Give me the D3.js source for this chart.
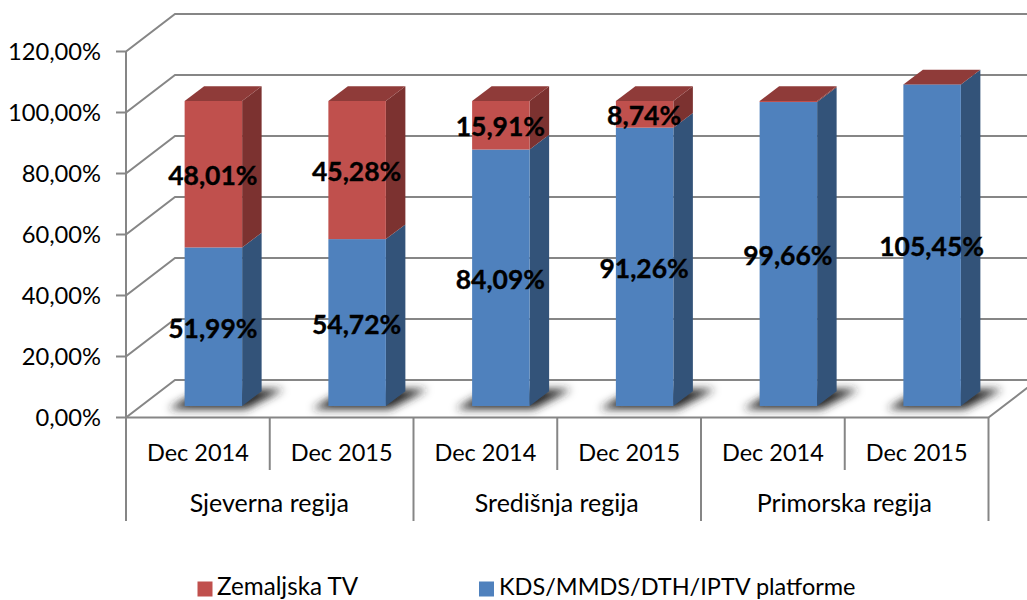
<!DOCTYPE html>
<html><head><meta charset="utf-8">
<script src="https://cdn.jsdelivr.net/npm/d3@7/dist/d3.min.js"></script>
<style>html,body{margin:0;background:#fff;overflow:hidden}svg{display:block}text{font-family:Lato,"Open Sans",sans-serif}</style>
</head><body><svg id="c" width="1027" height="600"></svg>
<script>
const periods=["Dec 2014","Dec 2015","Dec 2014","Dec 2015","Dec 2014","Dec 2015"];
const regions=["Sjeverna regija","Središnja regija","Primorska regija"];
const blueValues=[51.99,54.72,84.09,91.26,99.66,105.45];
const redValues=[48.01,45.28,15.91,8.74,0.34,0];
const yTicks=[0,20,40,60,80,100,120];
const legendItems=["Zemaljska TV","KDS/MMDS/DTH/IPTV platforme"];

const svg=d3.select("#c");
const GRID="#868686",BLUE="#4F81BD",BLUES="#335379",RED="#C0504D",REDS="#7C3230",REDT="#8F3B39";
const wallDx=49,wallDy=37.5,barDx=19.5,barDy=14.7,floorDx=15.5,floorDy=11.5;
const y=d3.scaleLinear().domain([0,120]).range([417.5,51.5]);
const x=d3.scaleBand().domain(d3.range(6)).range([126,988.5]).paddingInner(.6).paddingOuter(.3);
const step=x.step(),x0=126;
const defs=svg.append("defs");
defs.append("filter").attr("id","sh").attr("x","-40%").attr("y","-100%").attr("width","180%").attr("height","300%")
  .append("feGaussianBlur").attr("stdDeviation",4);
const fmt=v=>v.toFixed(2).replace(".",",")+"%";

// walls
const g=svg.append("g").attr("fill","none").attr("stroke",GRID).attr("stroke-width",2);
yTicks.forEach(t=>{
  g.append("path").attr("d",`M${x0-10},${y(t)}H${x0}L${x0+wallDx},${y(t)-wallDy}H1040`);
});
g.append("path").attr("d",`M${x0},${y(120)}V${y(0)}H${x0+step*6}L${x0+step*6+wallDx},${y(0)-wallDy}`);
// hierarchical axis
d3.range(7).forEach(i=>{
  const isGroup=i%2===0;
  g.append("line").attr("x1",x0+step*i).attr("x2",x0+step*i).attr("y1",y(0)).attr("y2",isGroup?521:470);
});
// tick labels
svg.append("g").selectAll("text").data(yTicks).join("text")
  .attr("x",101).attr("y",d=>y(d)+8.5).attr("text-anchor","end").attr("font-size",23.7).attr("fill","#000")
  .text(d=>fmt(d));
svg.append("g").selectAll("text").data(periods).join("text")
  .attr("x",(d,i)=>x0+step*(i+.5)).attr("y",461).attr("text-anchor","middle").attr("font-size",23.5).text(d=>d);
svg.append("g").selectAll("text").data(regions).join("text")
  .attr("x",(d,i)=>x0+step*(2*i+1)-.5).attr("y",512).attr("text-anchor","middle").attr("font-size",25).text(d=>d);

// bars
const pts=a=>a.map(p=>p.join(",")).join(" ");
const vy=v=>y(v)-floorDy;
const bw=x.bandwidth();
// shadows
const sh=svg.append("g");
blueValues.forEach((b,i)=>{
  const l=x(i)+floorDx,r=l+bw,by=vy(0);
  sh.append("polygon").attr("filter","url(#sh)").attr("fill","#262626")
    .attr("points",pts([[l-16,by+3],[r+4,by+3],[r+barDx+22,by-barDy-2],[l+barDx-2,by-barDy-2]]));
});
blueValues.forEach((b,i)=>{
  const l=x(i)+floorDx,r=l+bw,rv=redValues[i];
  const gb=svg.append("g");
  const box=(v0,v1,front,side)=>{
    gb.append("polygon").attr("fill",side).attr("points",pts([[r,vy(v0)],[r+barDx,vy(v0)-barDy],[r+barDx,vy(v1)-barDy],[r,vy(v1)]]));
    gb.append("rect").attr("x",l).attr("y",vy(v1)).attr("width",bw).attr("height",vy(v0)-vy(v1)).attr("fill",front);
  };
  box(0,b,BLUE,BLUES);
  if(rv>0)box(b,b+rv,RED,REDS);
  const t=b+rv;
  gb.append("polygon").attr("fill",REDT).attr("points",pts([[l,vy(t)],[r,vy(t)],[r+barDx,vy(t)-barDy],[l+barDx,vy(t)-barDy]]));
});
// data labels
const lab=svg.append("g");
const label=(v,base,i)=>lab.append("text").attr("x",x(i)+floorDx+bw/2-.5).attr("y",vy(base+v/2)+11)
  .attr("text-anchor","middle").attr("font-size",26.5).attr("font-weight",700).attr("fill","#000")
  .attr("stroke","#000").attr("stroke-width",.35).text(fmt(v));
blueValues.forEach((v,i)=>label(v,0,i));
redValues.forEach((v,i)=>{if(v>=1)label(v,blueValues[i],i)});
// legend
const legendX=[197.5,479],legendColors=[RED,BLUE],legendTextX=[217,499],legendSize=[24.2,23.5];
const lg=svg.append("g");
legendItems.forEach((t,i)=>{
  lg.append("rect").attr("x",legendX[i]).attr("y",581.5).attr("width",15).attr("height",15).attr("fill",legendColors[i]);
  lg.append("text").attr("x",legendTextX[i]).attr("y",595).attr("font-size",legendSize[i]).text(t);
});
</script></body></html>
